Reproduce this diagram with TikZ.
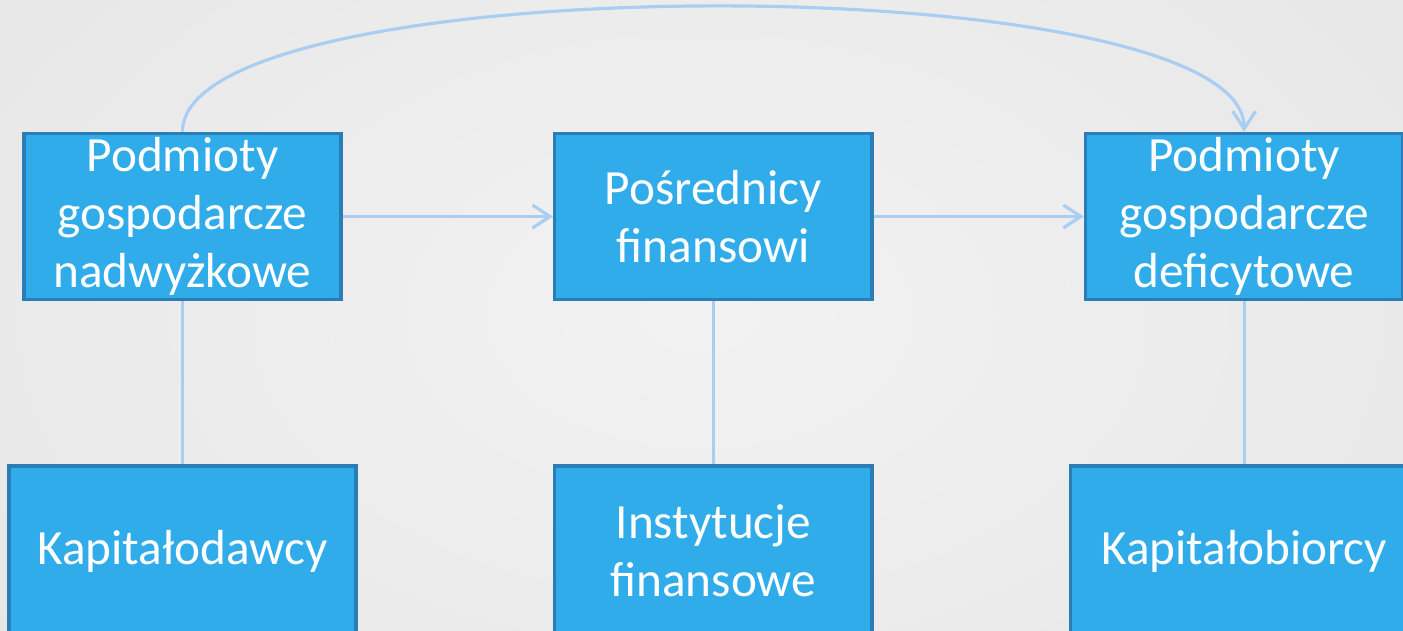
\documentclass[tikz,border=0pt]{standalone}
\usepackage{fontspec}
\setmainfont{Carlito}
\usetikzlibrary{arrows.meta}
\usetikzlibrary{positioning}

\definecolor{boxfill}{HTML}{31ACEB}
\definecolor{boxline}{HTML}{2A7DB5}
\definecolor{linkblue}{HTML}{A9CEF2}

\begin{document}
\begin{tikzpicture}[x=0.01cm,y=-0.01cm,
        entity/.style={draw=boxline, fill=boxfill, line width=1pt, text=white, align=center,
            inner sep=0pt, minimum width=3.17cm, minimum height=1.66cm,
            font=\fontsize{14}{16.5}\selectfont},
        role/.style={entity, minimum height=1.70cm},
        flow/.style={draw=linkblue, line width=0.9pt},
        tip/.style={-{Straight Barb[length=5pt,width=6.5pt]}}]
        \clip (0,0) rectangle (1403,630);
        \shade[inner color=white!95!black, outer color=white!87!black] (-900,-685) rectangle (2300,1315);

        \node[entity] (nadw) at (182.5,216.5) {Podmioty\\gospodarcze\\nadwyżkowe};
        \node[entity, right=2.10cm of nadw] (posr) {Pośrednicy\\finansowi};
        \node[entity, right=2.10cm of posr] (defi) {Podmioty\\gospodarcze\\deficytowe};

        \node[role, below=1.63cm of nadw, minimum width=3.47cm] (kdaw) {Kapitałodawcy};
        \node[role, below=1.63cm of posr] (inst) {Instytucje\\finansowe};
        \node[role, below=1.63cm of defi, minimum width=3.47cm] (kbio) {Kapitałobiorcy};

        \draw[flow, tip] (nadw) -- (posr);
        \draw[flow, tip] (posr) -- (defi);
        \draw[flow] (nadw) -- (kdaw);
        \draw[flow] (posr) -- (inst);
        \draw[flow] (defi) -- (kbio);
        \draw[flow, tip] (nadw.north) .. controls +(0,-167) and +(0,-167) .. (defi.north);
    \end{tikzpicture}
\end{document}
